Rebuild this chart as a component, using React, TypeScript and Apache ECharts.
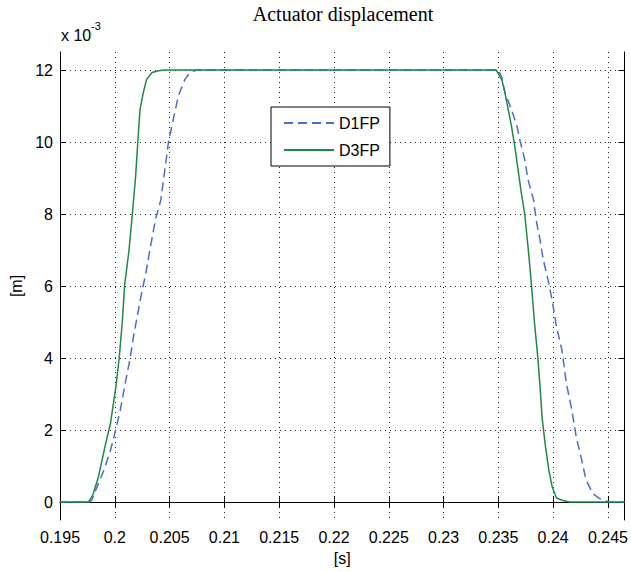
import React, { useEffect, useRef } from "react";
import * as echarts from "echarts";

const xTicks = [0.195, 0.2, 0.205, 0.21, 0.215, 0.22, 0.225, 0.23, 0.235, 0.24, 0.245];
const yTicks = [0, 2, 4, 6, 8, 10, 12];

const d1fpX = [0.195, 0.1977, 0.1979, 0.1985, 0.199, 0.1996, 0.2, 0.2005, 0.201, 0.2014, 0.2017, 0.2021, 0.2025, 0.2028, 0.2032, 0.2037, 0.2042, 0.2046, 0.2049, 0.2054, 0.2058, 0.2064, 0.2068, 0.2072, 0.2075,
  0.235, 0.2353, 0.2356, 0.2362, 0.2367, 0.237, 0.2374, 0.2377, 0.2382, 0.2385, 0.2388, 0.2391, 0.2395, 0.2399, 0.2403, 0.2408, 0.2412, 0.2417, 0.2421, 0.2426, 0.243, 0.2436, 0.2442, 0.2448, 0.2452, 0.2465];
const d1fpY = [0, 0, 0.05, 0.51, 0.88, 1.43, 1.9, 2.55, 3.38, 3.99, 4.59, 5.24, 5.89, 6.3, 7.0, 7.83, 8.39, 9.31, 10.0, 10.72, 11.28, 11.74, 11.9, 11.97, 12,
  12, 11.8, 11.37, 10.9, 10.43, 10.0, 9.52, 8.96, 8.4, 7.74, 7.28, 6.72, 6.22, 5.61, 4.87, 4.22, 3.3, 2.56, 1.81, 1.17, 0.61, 0.24, 0.1, 0.03, 0, 0];

const d3fpX = [0.195, 0.1976, 0.198, 0.1985, 0.1991, 0.1996, 0.2001, 0.2004, 0.2007, 0.2009, 0.2013, 0.2016, 0.2019, 0.2021, 0.2023, 0.2026, 0.2029, 0.2034, 0.204, 0.2045,
  0.2348, 0.2353, 0.2356, 0.2359, 0.2362, 0.2365, 0.2368, 0.2371, 0.2374, 0.2377, 0.238, 0.2383, 0.2386, 0.2388, 0.239, 0.2393, 0.2396, 0.2399, 0.2403, 0.2409, 0.2415, 0.2465];
const d3fpY = [0, 0, 0.2, 0.69, 1.53, 2.18, 3.2, 4.0, 5.06, 6.03, 7.0, 8.0, 9.05, 10.0, 10.9, 11.37, 11.74, 11.93, 11.98, 12,
  12, 11.74, 11.37, 10.9, 10.43, 9.87, 9.22, 8.57, 8.0, 7.1, 6.1, 4.96, 4.01, 3.2, 2.3, 1.54, 0.89, 0.43, 0.11, 0.04, 0, 0];

const FONT = "Liberation Sans";

export default function App() {
  const ref = useRef<HTMLDivElement>(null);
  useEffect(() => {
    document.body.style.margin = "0";
    const chart = echarts.init(ref.current!, null, { renderer: "svg" });
    const gridLine = { show: true, lineStyle: { color: "#222", width: 1, type: [1, 4] as any } };
    const axisLine = { show: true, lineStyle: { color: "#000", width: 1 } };
    const tickStyle = { inside: true, length: 6, lineStyle: { color: "#000", width: 1 } };
    const xFmt = (v: number) => String(+v.toFixed(3));
    chart.setOption({
      animation: false,
      backgroundColor: "#fff",
      grid: { left: 60, top: 52, width: 565, height: 468, containLabel: false },
      xAxis: [
        {
          type: "value", min: 0.195, max: 0.2465, splitNumber: 10, position: "bottom",
          axisLine, axisTick: { ...tickStyle, customValues: xTicks },
          axisLabel: { customValues: xTicks, formatter: xFmt, color: "#000", fontFamily: FONT, fontSize: 16, margin: 9 },
          splitLine: gridLine,
          name: "[s]", nameLocation: "middle", nameGap: 30,
          nameTextStyle: { color: "#000", fontFamily: FONT, fontSize: 16 },
        },
        {
          type: "value", min: 0.195, max: 0.2465, position: "top",
          axisLine, axisTick: { ...tickStyle, customValues: xTicks },
          axisLabel: { show: false }, splitLine: { show: false },
        },
      ],
      yAxis: [
        {
          type: "value", min: -0.5, max: 12.5, splitNumber: 7, position: "left",
          axisLine, axisTick: { ...tickStyle, customValues: yTicks },
          axisLabel: { customValues: yTicks, color: "#000", fontFamily: FONT, fontSize: 16, margin: 7 },
          splitLine: gridLine,
          name: "[m]", nameLocation: "middle", nameGap: 25, nameRotate: 90,
          nameTextStyle: { color: "#000", fontFamily: FONT, fontSize: 16 },
        },
        {
          type: "value", min: -0.5, max: 12.5, position: "right",
          axisLine, axisTick: { ...tickStyle, customValues: yTicks },
          axisLabel: { show: false }, splitLine: { show: false },
        },
      ],
      legend: {
        left: 271, top: 107, orient: "vertical",
        itemWidth: 50, itemHeight: 14, itemGap: 11,
        padding: [8, 10, 8, 12],
        borderColor: "#000", borderWidth: 1, backgroundColor: "#fff",
        itemStyle: { opacity: 0 },
        textStyle: { color: "#000", fontFamily: FONT, fontSize: 16 },
        data: ["D1FP", "D3FP"],
      },
      graphic: [
        {
          type: "text", x: 343, y: 4,
          style: { text: "Actuator displacement", font: "20px 'Liberation Serif'", fill: "#000", textAlign: "center", textVerticalAlign: "top" },
        },
        {
          type: "text", x: 61, y: 27,
          style: { text: "x 10", font: `16px '${FONT}'`, fill: "#000", textAlign: "left", textVerticalAlign: "top" },
        },
        {
          type: "text", x: 91, y: 20,
          style: { text: "-3", font: `11px '${FONT}'`, fill: "#000", textAlign: "left", textVerticalAlign: "top" },
        },
      ],
      series: [
        {
          name: "D1FP", type: "line", showSymbol: false, symbol: "none",
          data: d1fpX.map((x, i) => [x, d1fpY[i]]),
          lineStyle: { color: "#4b6fc4", width: 1.5, type: [9, 5] as any },
          itemStyle: { color: "#4b6fc4" },
          z: 3,
        },
        {
          name: "D3FP", type: "line", showSymbol: false, symbol: "none",
          data: d3fpX.map((x, i) => [x, d3fpY[i]]),
          lineStyle: { color: "#20894a", width: 1.5, type: "solid" },
          itemStyle: { color: "#20894a" },
          z: 4,
        },
      ],
    });
    return () => chart.dispose();
  }, []);
  return <div ref={ref} style={{ width: 631, height: 572 }} />;
}
